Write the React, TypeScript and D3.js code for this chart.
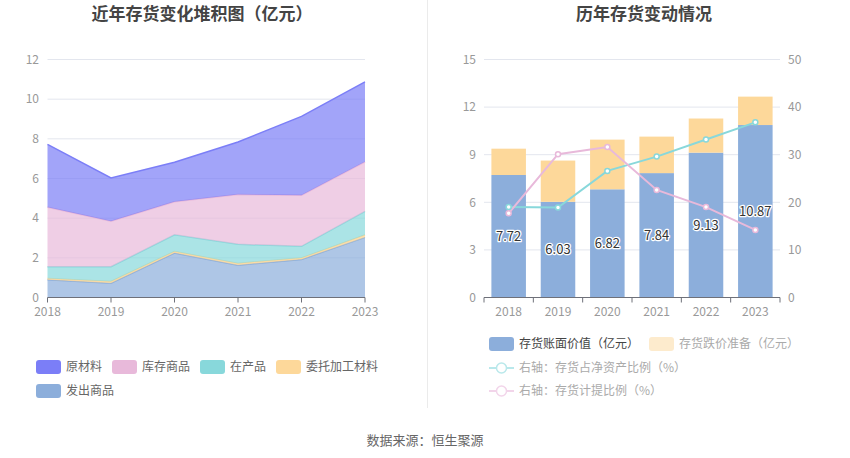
import React from "react";
import * as d3 from "d3";

const years = ["2018", "2019", "2020", "2021", "2022", "2023"];

// left chart: stacked layers, bottom to top
const shipped = [0.89, 0.72, 2.24, 1.63, 1.92, 3.03]; // 发出商品
const consigned = [0.07, 0.09, 0.08, 0.09, 0.07, 0.12]; // 委托加工材料
const wip = [0.59, 0.74, 0.84, 0.96, 0.59, 1.19]; // 在产品
const goods = [3.0, 2.29, 1.67, 2.51, 2.57, 2.5]; // 库存商品
const raw = [3.17, 2.19, 1.99, 2.65, 3.98, 4.03]; // 原材料
const leftTicks = [0, 2, 4, 6, 8, 10, 12];

// right chart
const bookValue = [7.72, 6.03, 6.82, 7.84, 9.13, 10.87];
const reserve = [1.66, 2.6, 3.13, 2.3, 2.15, 1.79];
const netAssetRatio = [19.0, 18.9, 26.6, 29.6, 33.2, 36.8];
const provisionRatio = [17.7, 30.1, 31.6, 22.6, 19.0, 14.2];
const barTicks = [0, 3, 6, 9, 12, 15];
const ratioTicks = [0, 10, 20, 30, 40, 50];

const FONT = "'Noto Sans CJK SC', 'Noto Sans', sans-serif";
const GRID = "#E3E6EE";
const AXIS = "#6E7079";
const LABEL = "#999";

const layers = [
  { key: "shipped", name: "发出商品", values: shipped, color: "#8CAEDB" },
  { key: "consigned", name: "委托加工材料", values: consigned, color: "#FDD89A" },
  { key: "wip", name: "在产品", values: wip, color: "#88D8DB" },
  { key: "goods", name: "库存商品", values: goods, color: "#E8B9DA" },
  { key: "raw", name: "原材料", values: raw, color: "#7B7EF7" },
];

function LeftChart() {
  const x = d3.scalePoint<string>().domain(years).range([47.5, 365]);
  const y = d3.scaleLinear().domain([0, 12]).range([297.5, 59.5]);

  const rows = years.map((yr, i) => {
    const r: any = { year: yr };
    layers.forEach((l) => (r[l.key] = l.values[i]));
    return r;
  });
  const series = d3.stack<any>().keys(layers.map((l) => l.key))(rows);

  const area = d3
    .area<any>()
    .x((d) => x(d.data.year)!)
    .y0((d) => y(d[0]))
    .y1((d) => y(d[1]));
  const line = d3
    .line<any>()
    .x((d) => x(d.data.year)!)
    .y((d) => y(d[1]));

  return (
    <g>
      {leftTicks.map((t) => (
        <g key={t}>
          {t > 0 && <line x1={47.5} x2={365} y1={y(t)} y2={y(t)} stroke={GRID} />}
          <text x={39} y={y(t)} dy="0.35em" textAnchor="end" fontSize={12} fill={LABEL}>
            {t}
          </text>
        </g>
      ))}
      {series.map((s, i) => (
        <g key={s.key}>
          <path d={area(s)!} fill={layers[i].color} fillOpacity={0.7} />
          <path d={line(s)!} fill="none" stroke={layers[i].color} strokeWidth={1.5} />
        </g>
      ))}
      <line x1={47.5} x2={365} y1={297.5} y2={297.5} stroke={AXIS} />
      {years.map((yr) => (
        <g key={yr}>
          <line x1={x(yr)} x2={x(yr)} y1={297.5} y2={302.5} stroke={AXIS} />
          <text x={x(yr)} y={316} textAnchor="middle" fontSize={12} fill={LABEL}>
            {yr}
          </text>
        </g>
      ))}
    </g>
  );
}

function RightChart() {
  const x = d3.scaleBand<string>().domain(years).range([484, 780]).paddingInner(0.3).paddingOuter(0.15);
  const xc = (yr: string) => x(yr)! + x.bandwidth() / 2;
  const y = d3.scaleLinear().domain([0, 15]).range([297.5, 59.5]);
  const y2 = d3.scaleLinear().domain([0, 50]).range([297.5, 59.5]);
  const line = d3
    .line<number>()
    .x((_, i) => xc(years[i]))
    .y((d) => y2(d));
  const step = x.step();

  return (
    <g>
      {barTicks.map((t, i) => (
        <g key={t}>
          {t > 0 && <line x1={484} x2={780} y1={y(t)} y2={y(t)} stroke={GRID} />}
          <text x={476} y={y(t)} dy="0.35em" textAnchor="end" fontSize={12} fill={LABEL}>
            {t}
          </text>
          <text x={788} y={y2(ratioTicks[i])} dy="0.35em" textAnchor="start" fontSize={12} fill={LABEL}>
            {ratioTicks[i]}
          </text>
        </g>
      ))}
      {years.map((yr, i) => (
        <g key={yr}>
          <rect x={x(yr)} width={x.bandwidth()} y={y(bookValue[i])} height={y(0) - y(bookValue[i])} fill="#8CAEDB" />
          <rect
            x={x(yr)}
            width={x.bandwidth()}
            y={y(bookValue[i] + reserve[i])}
            height={y(bookValue[i]) - y(bookValue[i] + reserve[i])}
            fill="#FDD89A"
          />
        </g>
      ))}
      <path d={line(netAssetRatio)!} fill="none" stroke="#88D8DB" strokeWidth={2} />
      <path d={line(provisionRatio)!} fill="none" stroke="#E8B9DA" strokeWidth={2} />
      {netAssetRatio.map((v, i) => (
        <circle key={"a" + i} cx={xc(years[i])} cy={y2(v)} r={2.5} fill="#fff" stroke="#88D8DB" strokeWidth={1.5} />
      ))}
      {provisionRatio.map((v, i) => (
        <circle key={"p" + i} cx={xc(years[i])} cy={y2(v)} r={2.5} fill="#fff" stroke="#E8B9DA" strokeWidth={1.5} />
      ))}
      {bookValue.map((v, i) => (
        <text
          key={"l" + i}
          x={xc(years[i])}
          y={(y(v) + y(0)) / 2}
          dy="0.35em"
          textAnchor="middle"
          fontSize={13}
          fill="#333"
          stroke="#fff"
          strokeWidth={2.5}
          paintOrder="stroke"
          strokeLinejoin="round"
        >
          {v.toFixed(2)}
        </text>
      ))}
      <line x1={484} x2={780} y1={297.5} y2={297.5} stroke={AXIS} />
      {d3.range(years.length + 1).map((k) => (
        <line key={k} x1={484 + k * step} x2={484 + k * step} y1={297.5} y2={302.5} stroke={AXIS} />
      ))}
      {years.map((yr) => (
        <text key={yr} x={xc(yr)} y={316} textAnchor="middle" fontSize={12} fill={LABEL}>
          {yr}
        </text>
      ))}
    </g>
  );
}

function Swatch({ x, y, color, label, textColor = "#666" }: any) {
  return (
    <g>
      <rect x={x} y={y} width={25} height={14} rx={3} fill={color} />
      <text x={x + 30} y={y + 7} dy="0.35em" fontSize={12} fill={textColor}>
        {label}
      </text>
    </g>
  );
}

function LineKey({ x, y, color, label }: any) {
  return (
    <g>
      <line x1={x} x2={x + 25} y1={y} y2={y} stroke={color} strokeWidth={2} />
      <circle cx={x + 12.5} cy={y} r={5} fill="#fff" stroke={color} strokeWidth={1.5} />
      <text x={x + 30} y={y} dy="0.35em" fontSize={12} fill="#aaa">
        {label}
      </text>
    </g>
  );
}

export default function App() {
  return (
    <svg
      width={850}
      height={458}
      style={{ position: "absolute", left: 0, top: 0, background: "#fff" }}
      fontFamily={FONT}
    >
      <text x={202} y={14} dy="0.35em" textAnchor="middle" fontSize={17} fontWeight="bold" fill="#444">
        近年存货变化堆积图（亿元）
      </text>
      <text x={644} y={14} dy="0.35em" textAnchor="middle" fontSize={17} fontWeight="bold" fill="#444">
        历年存货变动情况
      </text>
      <line x1={427.5} x2={427.5} y1={0} y2={408} stroke="#EBEBEB" />

      <LeftChart />
      <RightChart />

      <Swatch x={36} y={360} color="#7B7EF7" label="原材料" />
      <Swatch x={112} y={360} color="#E8B9DA" label="库存商品" />
      <Swatch x={200} y={360} color="#88D8DB" label="在产品" />
      <Swatch x={276} y={360} color="#FDD89A" label="委托加工材料" />
      <Swatch x={36} y={384} color="#8CAEDB" label="发出商品" />

      <Swatch x={489} y={337} color="#8CAEDB" label="存货账面价值（亿元）" textColor="#444" />
      <Swatch x={649} y={337} color="#FDEBCD" label="存货跌价准备（亿元）" textColor="#aaa" />
      <LineKey x={489} y={368} color="#B9E8EB" label="右轴：存货占净资产比例（%）" />
      <LineKey x={489} y={391} color="#F2D5EA" label="右轴：存货计提比例（%）" />

      <text x={425} y={440} dy="0.35em" textAnchor="middle" fontSize={13} fill="#666">
        数据来源：恒生聚源
      </text>
    </svg>
  );
}
